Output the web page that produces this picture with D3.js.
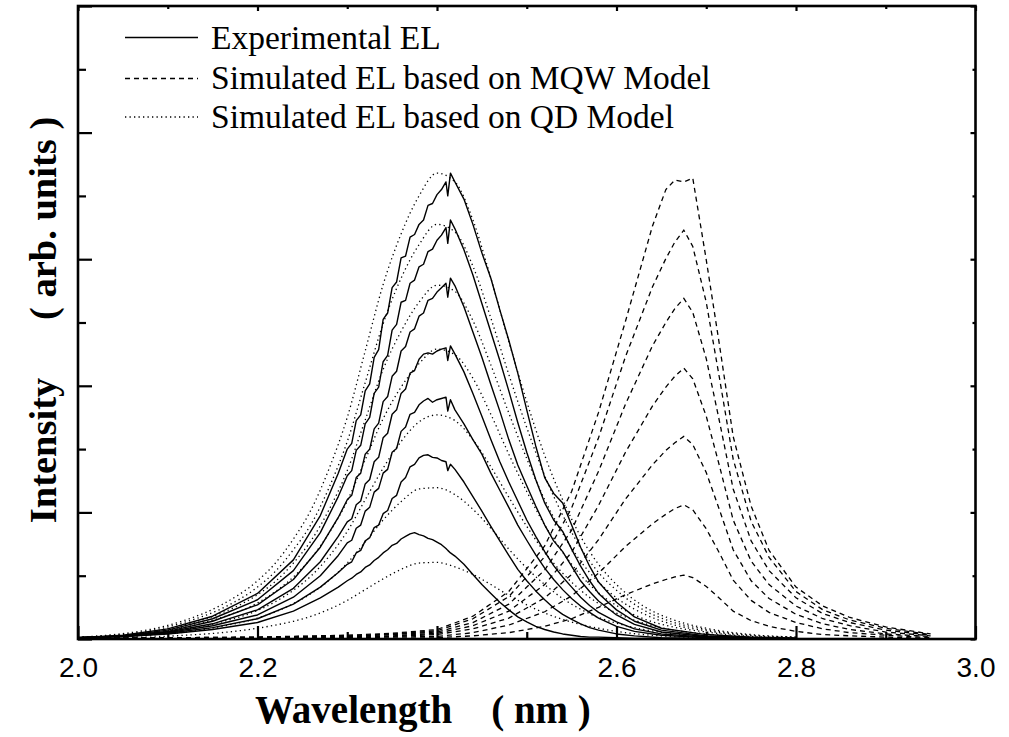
<!DOCTYPE html>
<html><head><meta charset="utf-8">
<script src="https://cdn.jsdelivr.net/npm/d3@7"></script>
<style>body{margin:0;background:#fff}svg{display:block}</style>
</head><body>
<svg id="c" width="1009" height="737"></svg>
<script>
// ---------- DATA ----------
const xMajorTicks = [2.0, 2.2, 2.4, 2.6, 2.8, 3.0];
const xMinorTicks = [2.1, 2.3, 2.5, 2.7, 2.9];
const yMajorTicks = [0, 2, 4, 6, 8, 10];
const yMinorTicks = [1, 3, 5, 7, 9];
const legendLabels = ["Experimental EL", "Simulated EL based on MQW Model", "Simulated EL based on QD Model"];

// Experimental EL (solid), wavelength grid
const expX = [2.00,2.05,2.10,2.15,2.20,2.24,2.27,2.29,2.30,2.305,2.31,2.315,2.32,2.325,2.33,2.335,2.34,2.345,2.35,2.355,2.36,2.365,2.37,2.375,2.38,2.385,2.39,2.395,2.40,2.405,2.41,2.412,2.415,2.42,2.43,2.44,2.45,2.46,2.47,2.48,2.49,2.50,2.51,2.52,2.53,2.54,2.55,2.56,2.57,2.58,2.60,2.62,2.65,2.70,2.75,2.80];
const exp1 = [0.02,0.04,0.08,0.15,0.26,0.44,0.65,0.82,0.92,0.96,1.02,1.06,1.13,1.17,1.24,1.29,1.36,1.41,1.48,1.51,1.58,1.62,1.66,1.68,1.65,1.63,1.59,1.57,1.53,1.49,1.43,1.40,1.36,1.31,1.18,1.02,0.86,0.72,0.58,0.46,0.35,0.27,0.20,0.15,0.11,0.08,0.06,0.04,0.03,0.03,0.02,0.01,0.01,0.00,0.00,0.00];
const exp2 = [0.02,0.04,0.09,0.18,0.32,0.55,0.82,1.05,1.18,1.22,1.36,1.40,1.55,1.60,1.76,1.80,1.98,2.03,2.22,2.27,2.48,2.55,2.72,2.76,2.86,2.90,2.91,2.87,2.86,2.82,2.80,2.66,2.76,2.68,2.48,2.25,2.02,1.78,1.55,1.32,1.10,0.92,0.76,0.62,0.49,0.39,0.31,0.24,0.18,0.14,0.08,0.05,0.02,0.01,0.00,0.00];
const exp3 = [0.02,0.04,0.10,0.21,0.38,0.66,1.00,1.32,1.52,1.56,1.75,1.80,2.02,2.08,2.32,2.38,2.62,2.68,2.95,3.01,3.28,3.35,3.55,3.58,3.70,3.76,3.80,3.74,3.78,3.80,3.82,3.60,3.78,3.62,3.40,3.15,2.92,2.62,2.35,2.08,1.80,1.56,1.33,1.12,0.94,0.78,0.64,0.52,0.42,0.33,0.20,0.12,0.06,0.02,0.01,0.00];
const exp4 = [0.02,0.05,0.11,0.24,0.46,0.80,1.22,1.62,1.85,1.90,2.12,2.18,2.45,2.52,2.80,2.87,3.18,3.25,3.55,3.62,3.88,3.95,4.20,4.24,4.42,4.50,4.52,4.50,4.55,4.58,4.60,4.40,4.63,4.50,4.22,3.88,3.52,3.15,2.80,2.48,2.18,1.88,1.62,1.38,1.16,0.98,0.82,0.66,0.53,0.42,0.27,0.16,0.08,0.03,0.01,0.00];
const exp5 = [0.02,0.05,0.12,0.28,0.54,0.94,1.45,1.92,2.20,2.27,2.55,2.62,2.92,3.00,3.32,3.41,3.75,3.83,4.15,4.23,4.55,4.62,4.85,4.90,5.10,5.15,5.35,5.38,5.48,5.55,5.62,5.40,5.70,5.58,5.25,4.85,4.45,4.02,3.60,3.15,2.75,2.42,2.10,1.80,1.55,1.38,1.15,0.92,0.75,0.60,0.38,0.23,0.11,0.04,0.02,0.01];
const exp6 = [0.02,0.05,0.14,0.32,0.62,1.08,1.68,2.25,2.58,2.66,2.98,3.06,3.40,3.50,3.88,3.98,4.38,4.48,4.88,4.97,5.32,5.35,5.62,5.67,5.88,5.92,6.12,6.16,6.30,6.38,6.50,6.25,6.62,6.48,6.15,5.75,5.30,4.85,4.40,3.92,3.42,2.95,2.52,2.15,1.88,1.70,1.42,1.15,0.92,0.72,0.46,0.28,0.14,0.05,0.02,0.01];
const exp7 = [0.02,0.06,0.16,0.36,0.72,1.25,1.95,2.62,3.00,3.09,3.45,3.54,3.92,4.03,4.45,4.57,5.05,5.15,5.55,5.64,6.02,6.05,6.35,6.39,6.55,6.62,6.85,6.88,7.02,7.10,7.22,7.00,7.36,7.22,6.95,6.55,6.10,5.70,5.20,4.72,4.20,3.62,3.05,2.55,2.30,2.15,1.80,1.45,1.15,0.90,0.58,0.35,0.17,0.07,0.03,0.01];

// Simulated EL, QD model (dotted)
const qdX = [2.00,2.04,2.08,2.12,2.16,2.20,2.22,2.24,2.26,2.28,2.30,2.32,2.34,2.36,2.38,2.40,2.42,2.44,2.46,2.48,2.50,2.52,2.54,2.56,2.58,2.60,2.63,2.66,2.70,2.75,2.80];
const qd1 = [0.01,0.02,0.03,0.06,0.10,0.17,0.22,0.28,0.36,0.47,0.61,0.78,0.95,1.10,1.20,1.21,1.14,1.02,0.86,0.69,0.54,0.41,0.31,0.23,0.17,0.12,0.07,0.04,0.02,0.01,0.00];
const qd2 = [0.02,0.03,0.06,0.11,0.20,0.33,0.43,0.56,0.72,0.93,1.20,1.53,1.88,2.17,2.37,2.39,2.28,2.05,1.75,1.42,1.12,0.86,0.64,0.47,0.34,0.25,0.15,0.09,0.05,0.02,0.01];
const qd3 = [0.02,0.04,0.07,0.15,0.27,0.45,0.59,0.77,1.00,1.31,1.70,2.20,2.70,3.12,3.43,3.54,3.45,3.15,2.72,2.24,1.78,1.37,1.04,0.77,0.56,0.41,0.25,0.15,0.08,0.03,0.01];
const qd4 = [0.02,0.04,0.09,0.19,0.34,0.57,0.75,0.98,1.28,1.68,2.18,2.83,3.48,3.98,4.35,4.58,4.49,4.12,3.55,2.92,2.33,1.80,1.37,1.01,0.73,0.53,0.32,0.20,0.11,0.04,0.02];
const qd5 = [0.02,0.05,0.11,0.23,0.41,0.70,0.91,1.20,1.56,2.05,2.66,3.46,4.26,4.86,5.32,5.59,5.49,5.03,4.33,3.57,2.85,2.20,1.67,1.23,0.90,0.65,0.40,0.24,0.13,0.05,0.02];
const qd6 = [0.03,0.06,0.13,0.27,0.48,0.82,1.07,1.41,1.82,2.40,3.12,4.05,4.98,5.70,6.23,6.55,6.43,5.89,5.07,4.18,3.34,2.58,1.96,1.44,1.05,0.77,0.46,0.28,0.15,0.06,0.03];
const qd7 = [0.03,0.07,0.15,0.30,0.54,0.92,1.20,1.58,2.05,2.70,3.50,4.55,5.60,6.40,7.00,7.36,7.22,6.62,5.70,4.70,3.75,2.90,2.20,1.62,1.18,0.86,0.52,0.32,0.17,0.07,0.03];

// Simulated EL, MQW model (dashed)
const mqwX = [2.00,2.10,2.20,2.30,2.35,2.40,2.44,2.48,2.52,2.55,2.58,2.61,2.64,2.655,2.665,2.675,2.685,2.70,2.715,2.73,2.75,2.77,2.80,2.83,2.86,2.90,2.95];
const mqw1 = [0.00,0.00,0.00,0.01,0.01,0.02,0.05,0.10,0.20,0.32,0.50,0.70,0.87,0.94,0.98,1.01,0.97,0.83,0.64,0.44,0.29,0.20,0.12,0.07,0.05,0.03,0.01];
const mqw2 = [0.00,0.01,0.01,0.02,0.03,0.04,0.10,0.22,0.43,0.68,1.04,1.46,1.82,1.97,2.06,2.12,2.04,1.74,1.35,0.93,0.61,0.42,0.26,0.16,0.10,0.06,0.02];
const mqw3 = [0.00,0.01,0.01,0.03,0.04,0.07,0.16,0.33,0.65,1.02,1.57,2.21,2.75,2.98,3.10,3.20,3.07,2.63,2.03,1.41,0.92,0.64,0.39,0.24,0.15,0.08,0.04];
const mqw4 = [0.01,0.01,0.02,0.04,0.05,0.09,0.21,0.44,0.86,1.37,2.11,2.95,3.68,3.98,4.15,4.28,4.11,3.52,2.72,1.88,1.23,0.86,0.52,0.32,0.21,0.11,0.05];
const mqw5 = [0.01,0.01,0.02,0.04,0.07,0.11,0.26,0.55,1.09,1.72,2.65,3.71,4.63,5.00,5.22,5.38,5.16,4.43,3.42,2.37,1.55,1.08,0.65,0.40,0.26,0.14,0.06];
const mqw6 = [0.01,0.02,0.03,0.05,0.08,0.13,0.32,0.67,1.30,2.07,3.18,4.46,5.56,6.01,6.27,6.46,6.20,5.32,4.10,2.84,1.86,1.29,0.75,0.46,0.30,0.17,0.07];
const mqw7 = [0.01,0.02,0.03,0.06,0.09,0.15,0.36,0.75,1.47,2.33,3.58,5.02,6.52,7.10,7.25,7.22,7.28,5.99,4.62,3.20,2.10,1.40,0.82,0.52,0.34,0.19,0.08];

// ---------- CHART ----------
const SERIF = "'Liberation Serif','Times New Roman',serif";
const SANS = "'Liberation Sans',Arial,sans-serif";
const svg = d3.select("#c");
const x = d3.scaleLinear().domain([2, 3]).range([78, 975.5]);
const y = d3.scaleLinear().domain([0, 10]).range([639, 6]);

const zip = (xs, ys) => xs.map((v, i) => [v, ys[i]]);
const lineLin = d3.line().x(d => x(d[0])).y(d => y(d[1])).curve(d3.curveLinear);
const lineSmooth = d3.line().x(d => x(d[0])).y(d => y(d[1])).curve(d3.curveMonotoneX);

const gPlot = svg.append("g");
// QD dotted
[qd1, qd2, qd3, qd4, qd5, qd6, qd7].forEach(s => {
  gPlot.append("path").attr("d", lineSmooth(zip(qdX, s)))
    .attr("fill", "none").attr("stroke", "#000").attr("stroke-width", 1.3)
    .attr("stroke-dasharray", "1.3,3.2");
});
// MQW dashed
[mqw1, mqw2, mqw3, mqw4, mqw5, mqw6, mqw7].forEach(s => {
  gPlot.append("path").attr("d", lineLin(zip(mqwX, s)))
    .attr("fill", "none").attr("stroke", "#000").attr("stroke-width", 1.3)
    .attr("stroke-dasharray", "5,4");
});
// Experimental solid
[exp1, exp2, exp3, exp4, exp5, exp6, exp7].forEach(s => {
  gPlot.append("path").attr("d", lineLin(zip(expX, s)))
    .attr("fill", "none").attr("stroke", "#000").attr("stroke-width", 1.4)
    .attr("stroke-linejoin", "round");
});

// Axes (ticks inward)
function styleAxis(g) {
  g.select(".domain").remove();
  g.selectAll(".tick line").attr("stroke", "#000").attr("stroke-width", 2.2);
}
const gxB = svg.append("g").attr("transform", "translate(0,639)")
  .call(d3.axisBottom(x).tickValues(xMajorTicks).tickSize(-13).tickFormat(d3.format(".1f")));
styleAxis(gxB);
gxB.selectAll("text").attr("y", 38).attr("dy", 0)
  .attr("font-family", SANS).attr("font-size", 28).attr("fill", "#000");
svg.append("g").attr("transform", "translate(0,639)")
  .call(d3.axisBottom(x).tickValues(xMinorTicks).tickSize(-7).tickFormat("")).call(styleAxis);
svg.append("g").attr("transform", "translate(0,6)")
  .call(d3.axisTop(x).tickValues(xMajorTicks).tickSize(-5).tickFormat("")).call(styleAxis);
svg.append("g").attr("transform", "translate(0,6)")
  .call(d3.axisTop(x).tickValues(xMinorTicks).tickSize(-3).tickFormat("")).call(styleAxis);
svg.append("g").attr("transform", "translate(78,0)")
  .call(d3.axisLeft(y).tickValues(yMajorTicks).tickSize(-14).tickFormat("")).call(styleAxis);
svg.append("g").attr("transform", "translate(78,0)")
  .call(d3.axisLeft(y).tickValues(yMinorTicks).tickSize(-8).tickFormat("")).call(styleAxis);
svg.append("g").attr("transform", "translate(975.5,0)")
  .call(d3.axisRight(y).tickValues(yMajorTicks).tickSize(-5).tickFormat("")).call(styleAxis);
svg.append("g").attr("transform", "translate(975.5,0)")
  .call(d3.axisRight(y).tickValues(yMinorTicks).tickSize(-3).tickFormat("")).call(styleAxis);

// Frame
svg.append("rect").attr("x", x(2)).attr("y", y(10))
  .attr("width", x(3) - x(2)).attr("height", y(0) - y(10))
  .attr("fill", "none").attr("stroke", "#000").attr("stroke-width", 2.6);

// Axis titles
svg.append("text").attr("x", 255).attr("y", 723)
  .attr("text-anchor", "start").attr("font-family", SERIF).attr("font-weight", "bold")
  .attr("font-size", 39).style("white-space", "pre")
  .text("Wavelength    ( nm )");
svg.append("text").attr("transform", "translate(56,320) rotate(-90)")
  .attr("text-anchor", "middle").attr("font-family", SERIF).attr("font-weight", "bold")
  .attr("font-size", 38.5).style("white-space", "pre")
  .text("Intensity      ( arb. units )");

// Legend
const legDash = ["none", "5,4", "1.3,3.2"];
const legLineY = [37.5, 78.5, 117];
const legTextY = [48.5, 89, 128];
legendLabels.forEach((lab, i) => {
  svg.append("line").attr("x1", 125).attr("x2", 198).attr("y1", legLineY[i]).attr("y2", legLineY[i])
    .attr("stroke", "#000").attr("stroke-width", 1.3).attr("stroke-dasharray", legDash[i]);
  svg.append("text").attr("x", 211).attr("y", legTextY[i])
    .attr("font-family", SERIF).attr("font-size", 33.5).attr("fill", "#000").text(lab);
});
</script>
</body></html>
